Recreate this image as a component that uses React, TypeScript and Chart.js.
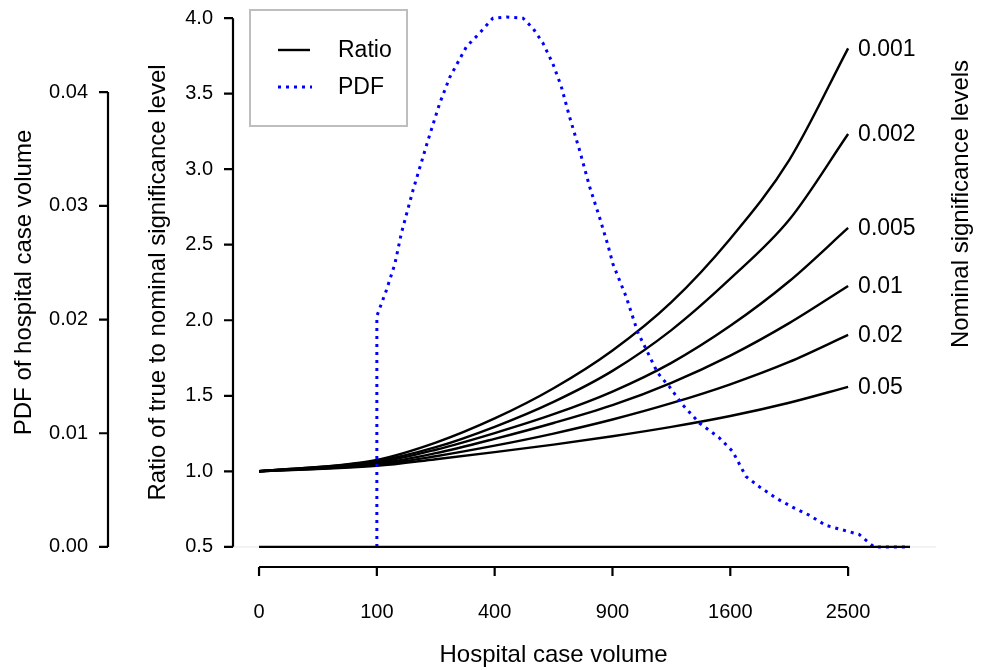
import React, { useEffect, useRef } from "react";
import { Chart, registerables } from "chart.js";

Chart.register(...registerables);

// ---- data (hospital case volume on a square-root axis) ----
const volumes = [0, 100, 225, 400, 625, 900, 1225, 1600, 2025, 2500];
const levelLabels = ["0.001", "0.002", "0.005", "0.01", "0.02", "0.05"];
const ratio0001 = [1.0, 1.076, 1.19, 1.35, 1.55, 1.8, 2.12, 2.54, 3.06, 3.8];
const ratio0002 = [1.0, 1.068, 1.16, 1.295, 1.46, 1.665, 1.935, 2.275, 2.665, 3.233];
const ratio0005 = [1.0, 1.058, 1.143, 1.253, 1.378, 1.528, 1.718, 1.963, 2.258, 2.611];
const ratio001 = [1.0, 1.05, 1.12, 1.215, 1.32, 1.438, 1.586, 1.766, 1.981, 2.227];
const ratio002 = [1.0, 1.043, 1.1, 1.17, 1.25, 1.343, 1.451, 1.576, 1.724, 1.903];
const ratio005 = [1.0, 1.036, 1.08, 1.127, 1.177, 1.232, 1.294, 1.366, 1.454, 1.559];
const ratioSeries = [ratio0001, ratio0002, ratio0005, ratio001, ratio002, ratio005];

const pdfVolumes = [
  100, 100, 105, 117, 133, 146, 171, 206, 235, 262, 310, 351, 394, 441, 502, 541,
  581, 622, 658, 695, 740, 787, 835, 876, 902, 971, 1033, 1145, 1213, 1293, 1397,
  1526, 1616, 1708, 1803, 1925, 2050, 2180, 2315, 2452, 2594, 2725, 3053,
];
const pdfValues = [
  0, 0.0203, 0.021, 0.0226, 0.0249, 0.0276, 0.0314, 0.0358, 0.039, 0.0413, 0.044,
  0.0452, 0.0465, 0.0466, 0.0465, 0.0456, 0.0443, 0.0425, 0.0405, 0.0378, 0.0349,
  0.0317, 0.029, 0.0266, 0.0249, 0.022, 0.0189, 0.0153, 0.0141, 0.0125, 0.0109,
  0.0096, 0.0084, 0.0062, 0.0053, 0.0043, 0.0035, 0.0028, 0.0019, 0.0015, 0.0011,
  0, 0,
];

const baseVolumes = [0, 3053];
const baseRatio = [0.5, 0.5];

const xTicks = [0, 100, 400, 900, 1600, 2500];
const ratioTicks = [0.5, 1.0, 1.5, 2.0, 2.5, 3.0, 3.5, 4.0];
const pdfTicks = [0, 0.01, 0.02, 0.03, 0.04];

const FONT = '"Liberation Sans", Arial, Helvetica, sans-serif';

const toPts = (vols: number[], vals: number[]) =>
  vols.map((v, i) => ({ x: Math.sqrt(v), y: vals[i] }));

const rAxesPlugin = {
  id: "rAxes",
  beforeDatasetsDraw(chart: any) {
    const { ctx, chartArea } = chart;
    const y0 = chart.scales.yPdf.getPixelForValue(0);
    ctx.save();
    ctx.strokeStyle = "#e6e6e6";
    ctx.lineWidth = 1;
    ctx.beginPath();
    ctx.moveTo(chartArea.left, y0);
    ctx.lineTo(chartArea.right, y0);
    ctx.stroke();
    ctx.restore();
  },
  afterDraw(chart: any) {
    const { ctx, chartArea } = chart;
    const xs = chart.scales.x;
    const ys = chart.scales.y;
    const yp = chart.scales.yPdf;
    ctx.save();
    ctx.strokeStyle = "#000";
    ctx.fillStyle = "#000";
    ctx.lineWidth = 2.2;
    ctx.lineCap = "butt";

    // x axis
    const axY = chartArea.bottom - 1;
    const xa = xs.getPixelForValue(Math.sqrt(xTicks[0]));
    const xb = xs.getPixelForValue(Math.sqrt(xTicks[xTicks.length - 1]));
    ctx.beginPath();
    ctx.moveTo(xa, axY);
    ctx.lineTo(xb, axY);
    xTicks.forEach((t) => {
      const px = xs.getPixelForValue(Math.sqrt(t));
      ctx.moveTo(px, axY);
      ctx.lineTo(px, axY + 9);
    });
    ctx.stroke();
    ctx.font = `20px ${FONT}`;
    ctx.textAlign = "center";
    ctx.textBaseline = "middle";
    xTicks.forEach((t) => {
      ctx.fillText(String(t), xs.getPixelForValue(Math.sqrt(t)), axY + 45);
    });
    ctx.font = `24px ${FONT}`;
    ctx.fillText("Hospital case volume", (xa + xb) / 2, axY + 88);

    // ratio axis
    const ax = chartArea.left;
    ctx.beginPath();
    ctx.moveTo(ax, ys.getPixelForValue(ratioTicks[0]));
    ctx.lineTo(ax, ys.getPixelForValue(ratioTicks[ratioTicks.length - 1]));
    ratioTicks.forEach((t) => {
      const py = ys.getPixelForValue(t);
      ctx.moveTo(ax, py);
      ctx.lineTo(ax - 9, py);
    });
    ctx.stroke();
    ctx.font = `20px ${FONT}`;
    ctx.textAlign = "right";
    ratioTicks.forEach((t) => {
      ctx.fillText(t.toFixed(1), ax - 20, ys.getPixelForValue(t));
    });

    // pdf axis
    const pax = chartArea.left - 125;
    ctx.beginPath();
    ctx.moveTo(pax, yp.getPixelForValue(pdfTicks[0]));
    ctx.lineTo(pax, yp.getPixelForValue(pdfTicks[pdfTicks.length - 1]));
    pdfTicks.forEach((t) => {
      const py = yp.getPixelForValue(t);
      ctx.moveTo(pax, py);
      ctx.lineTo(pax - 9, py);
    });
    ctx.stroke();
    pdfTicks.forEach((t) => {
      ctx.fillText(t.toFixed(2), pax - 20, yp.getPixelForValue(t));
    });

    // rotated titles
    const midY = (chartArea.top - 3 + chartArea.bottom) / 2;
    const rot = (text: string, x: number, y: number) => {
      ctx.save();
      ctx.translate(x, y);
      ctx.rotate(-Math.PI / 2);
      ctx.textAlign = "center";
      ctx.textBaseline = "middle";
      ctx.font = `24px ${FONT}`;
      ctx.fillText(text, 0, 0);
      ctx.restore();
    };
    rot("Ratio of true to nominal significance level", ax - 75, midY);
    rot("PDF of hospital case volume", ax - 209, midY);
    rot("Nominal significance levels", chartArea.right + 25, 204);

    // curve end labels
    ctx.font = `23px ${FONT}`;
    ctx.textAlign = "left";
    ctx.textBaseline = "middle";
    const endX = xs.getPixelForValue(Math.sqrt(volumes[volumes.length - 1]));
    ratioSeries.forEach((s, i) => {
      ctx.fillText(levelLabels[i], endX + 10, ys.getPixelForValue(s[s.length - 1]) + 1);
    });

    // legend
    const lx = chartArea.left + 17;
    const ly = chartArea.top + 10;
    ctx.strokeStyle = "#bebebe";
    ctx.lineWidth = 2;
    ctx.strokeRect(lx, ly, 157, 116);
    ctx.strokeStyle = "#000";
    ctx.lineWidth = 2.4;
    ctx.beginPath();
    ctx.moveTo(lx + 28, ly + 40);
    ctx.lineTo(lx + 60, ly + 40);
    ctx.stroke();
    ctx.strokeStyle = "#0000ff";
    ctx.lineWidth = 3;
    ctx.setLineDash([3, 5]);
    ctx.beginPath();
    ctx.moveTo(lx + 28, ly + 77);
    ctx.lineTo(lx + 62, ly + 77);
    ctx.stroke();
    ctx.setLineDash([]);
    ctx.fillStyle = "#000";
    ctx.font = `23px ${FONT}`;
    ctx.fillText("Ratio", lx + 88, ly + 41);
    ctx.fillText("PDF", lx + 88, ly + 78);
    ctx.restore();
  },
};

export default function App() {
  const canvasRef = useRef<HTMLCanvasElement | null>(null);

  useEffect(() => {
    if (!canvasRef.current) return;
    const ratioDatasets = ratioSeries.map((s, i) => ({
      label: levelLabels[i],
      data: toPts(volumes, s),
      yAxisID: "y",
      borderColor: "#000000",
      borderWidth: 2.4,
      pointRadius: 0,
      cubicInterpolationMode: "monotone" as const,
      fill: false,
      order: 2,
    }));
    const chart = new Chart(canvasRef.current, {
      type: "line",
      data: {
        datasets: [
          {
            label: "base",
            data: toPts(baseVolumes, baseRatio),
            yAxisID: "y",
            borderColor: "#000000",
            borderWidth: 2.4,
            pointRadius: 0,
            fill: false,
            order: 0,
          },
          {
            label: "PDF",
            data: toPts(pdfVolumes, pdfValues),
            yAxisID: "yPdf",
            borderColor: "#0000ff",
            borderWidth: 3,
            borderDash: [3, 5],
            pointRadius: 0,
            tension: 0,
            fill: false,
            order: 1,
          },
          ...ratioDatasets,
        ],
      },
      options: {
        animation: false,
        responsive: false,
        devicePixelRatio: 1,
        parsing: false as any,
        layout: { padding: { left: 233, right: 49, top: 0, bottom: 102 } },
        scales: {
          x: { type: "linear", min: -2.21, max: 57.46, display: false },
          y: { type: "linear", min: 0.36, max: 4.12, display: false },
          yPdf: { type: "linear", min: -0.00185, max: 0.0481, display: false },
        },
        plugins: { legend: { display: false }, tooltip: { enabled: false } },
      },
      plugins: [rAxesPlugin],
    });
    return () => chart.destroy();
  }, []);

  return (
    <div style={{ position: "fixed", left: 0, top: 0, width: 985, height: 670, background: "#fff" }}>
      <canvas ref={canvasRef} width={985} height={670} style={{ display: "block" }} />
    </div>
  );
}
